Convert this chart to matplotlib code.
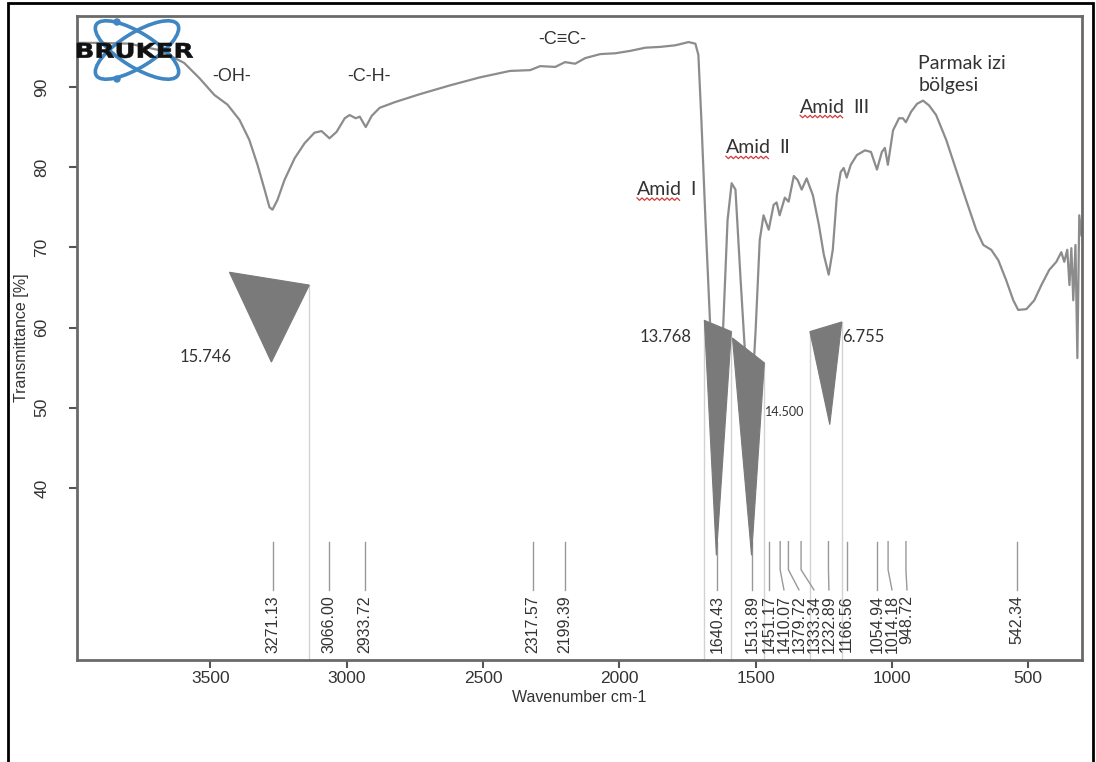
import numpy as np
import matplotlib.pyplot as plt
from matplotlib.patches import Polygon, Ellipse, Circle, PathPatch, Rectangle
from matplotlib.lines import Line2D
from matplotlib.textpath import TextPath
from matplotlib.font_manager import FontProperties
from matplotlib.transforms import Affine2D, IdentityTransform

plt.rcParams["font.family"] = ["Liberation Sans", "DejaVu Sans"]
plt.rcParams["font.size"] = 12

# ATR-FTIR trace, wavenumber (cm-1) vs transmittance (%)
wavenumber = [3989, 3908, 3798, 3688, 3596, 3540, 3485, 3437, 3393, 3357,
              3327, 3301, 3283, 3272, 3254, 3228, 3191, 3154, 3118, 3092,
              3063, 3037, 3007, 2989, 2967, 2952, 2930, 2908, 2879, 2824,
              2732, 2621, 2511, 2401, 2327, 2290, 2235, 2199, 2162, 2125,
              2070, 2015, 1960, 1904, 1849, 1794, 1746, 1721, 1710, 1699,
              1684, 1666, 1647, 1636, 1621, 1603, 1588, 1574, 1555, 1533,
              1515, 1500, 1485, 1471, 1452, 1434, 1423, 1412, 1393, 1379,
              1360, 1346, 1331, 1313, 1290, 1268, 1250, 1232, 1217, 1202,
              1188, 1177, 1166, 1151, 1129, 1099, 1077, 1055, 1037, 1026,
              1015, 996, 974, 960, 949, 930, 908, 886, 864, 838,
              801, 765, 728, 691, 665, 636, 610, 581, 555, 537,
              507, 478, 452, 423, 397, 379, 368, 357, 349, 342,
              335, 327, 320, 313, 305]
transmittance = [95.5, 95.5, 95.4, 94.6, 93.0, 91.1, 89.0, 87.8, 85.9, 83.4,
                 80.3, 77.2, 75.0, 74.7, 75.9, 78.4, 81.1, 83.0, 84.3, 84.5,
                 83.6, 84.4, 86.1, 86.5, 86.1, 86.3, 85.0, 86.4, 87.4, 88.1,
                 89.1, 90.2, 91.2, 92.0, 92.1, 92.6, 92.5, 93.1, 92.9, 93.6,
                 94.1, 94.2, 94.5, 94.9, 95.0, 95.2, 95.6, 95.4, 94.0, 85.9,
                 73.4, 59.7, 51.6, 50.4, 58.5, 73.4, 78.0, 77.2, 65.9, 53.5,
                 50.4, 59.7, 70.9, 74.0, 72.2, 75.3, 75.6, 74.0, 76.2, 75.7,
                 78.9, 78.4, 77.2, 78.6, 76.5, 72.8, 69.1, 66.6, 69.7, 76.5,
                 79.4, 79.9, 78.7, 80.3, 81.5, 82.1, 81.9, 79.7, 81.9, 82.4,
                 80.3, 84.6, 86.1, 86.1, 85.6, 86.9, 87.9, 88.3, 87.7, 86.5,
                 83.4, 79.7, 75.9, 72.2, 70.3, 69.7, 68.4, 65.9, 63.4, 62.2,
                 62.3, 63.4, 65.3, 67.2, 68.2, 69.4, 68.2, 69.7, 65.3, 69.9,
                 63.4, 70.3, 56.2, 74.0, 71.5]

# picked peaks (cm-1)
peak_positions = [3271.13, 3066.00, 2933.72, 2317.57, 2199.39, 1640.43,
                  1513.89, 1451.17, 1410.07, 1379.72, 1333.34, 1232.89,
                  1166.56, 1054.94, 1014.18, 948.72, 542.34]

# integrated bands: area and (left, right, tip) outline in (cm-1, %T)
band_areas = ["15.746", "13.768", "14.500", "6.755"]
band_shapes = [
    [(3430, 66.9), (3137, 65.3), (3276, 55.7)],
    [(1688, 60.9), (1589, 59.5), (1644, 31.6)],
    [(1585, 58.7), (1468, 55.6), (1515, 31.6)],
    [(1301, 59.5), (1184, 60.7), (1228, 47.9)],
]
band_label_pos = [(3611, 56.3), (1924, 58.8), (1466, 49.5), (1183, 58.8)]
band_label_size = [12, 12, 9, 12]
# integration limits drawn as faint guides
band_limits = [(3137, 65.3), (1688, 60.9), (1589, 59.5), (1468, 55.6),
               (1301, 59.5), (1184, 60.7)]

# functional group notes
group_labels = ["-OH-", "-C-H-", "-C\u2261C-"]
group_pos = [(3421, 91.3), (2918, 91.3), (2210, 95.9)]
amide_numerals = ["I", "II", "III"]
amide_pos = [(1935, 77.2), (1609, 82.4), (1337, 87.5)]
region_label = "Parmak izi\nbölgesi"
region_pos = (904, 91.6)

fig = plt.figure(figsize=(10.96, 7.62), dpi=100)
ax = fig.add_axes([77 / 1096, 1 - 660 / 762, 1005 / 1096, 644 / 762])

ax.set_xlim(3989, 303)
ax.set_ylim(18.55, 98.85)

for w, t in band_limits:
    ax.plot([w, w], [18.55, t], color="#d2d2d2", lw=1, zorder=1)

ax.plot(wavenumber, transmittance, color="#8c8c8c", lw=1.6, zorder=2)

for shape, txt, pos, fs in zip(band_shapes, band_areas, band_label_pos, band_label_size):
    ax.add_patch(Polygon(shape, closed=True, facecolor="#7a7a7a",
                         edgecolor="#7a7a7a", lw=0.8, zorder=3))
    ax.text(pos[0], pos[1], txt, fontsize=fs, family=["Lato", "DejaVu Sans"],
            color="#333333", ha="left", va="center", zorder=4)

# peak labels, spread apart where they crowd
gap = 55
label_x = []
for p in peak_positions:
    x = p if not label_x else min(p, label_x[-1] - gap)
    label_x.append(x)
for p, lx in zip(peak_positions, label_x):
    if abs(p - lx) < 1:
        ax.plot([p, p], [33.3, 27.3], color="#999999", lw=1, zorder=2)
    else:
        ax.plot([p, p, lx], [33.3, 29.8, 27.3], color="#999999", lw=1, zorder=2)
    ax.text(lx, 26.6, f"{p:.2f}", rotation=90, ha="center", va="top",
            fontsize=11.5, color="#333333")

for txt, (w, t) in zip(group_labels, group_pos):
    ax.text(w, t, txt, ha="center", va="center", fontsize=13, color="#333333")

amid_texts = []
for num, (w, t) in zip(amide_numerals, amide_pos):
    a = ax.text(w, t, "Amid", ha="left", va="center", fontsize=14,
                family=["Lato", "DejaVu Sans"], color="#333333")
    ax.annotate(num, xy=(1, 0), xycoords=a, xytext=(6, 0),
                textcoords="offset points", ha="left", va="bottom",
                fontsize=14, family=["Lato", "DejaVu Sans"], color="#333333")
    amid_texts.append(a)

ax.text(region_pos[0], region_pos[1], region_label, ha="left", va="center",
        fontsize=14, family=["Lato", "DejaVu Sans"], color="#333333",
        linespacing=1.35)

ax.set_xticks([3500, 3000, 2500, 2000, 1500, 1000, 500])
ax.set_yticks([40, 50, 60, 70, 80, 90])
for lab in ax.get_yticklabels():
    lab.set_rotation(90)
    lab.set_va("center")
ax.tick_params(axis="both", colors="#555555", labelcolor="#333333",
               labelsize=12.5, width=1.5, length=6)
ax.tick_params(axis="x", pad=2)
ax.tick_params(axis="y", pad=14)
for s in ax.spines.values():
    s.set_color("#6a6a6a")
    s.set_linewidth(2)
ax.set_xlabel("Wavenumber cm-1", fontsize=11.5, color="#333333", labelpad=3)
ax.set_ylabel("Transmittance [%]", fontsize=11.5, color="#333333", labelpad=4)

# Bruker logo in the upper-left corner
logo = fig.add_axes([75 / 1096, 1 - 86 / 762, 125 / 1096, 72 / 762])
logo.set_xlim(0, 125)
logo.set_ylim(0, 72)
logo.axis("off")
logo.patch.set_alpha(0)
for ang in (32, -32):
    logo.add_patch(Ellipse((62, 36), 96, 34, angle=ang, fill=False,
                           edgecolor="#3f86c2", lw=2.6))
logo.add_patch(Circle((42, 64), 3, color="#3f86c2"))
logo.add_patch(Circle((42, 7), 3, color="#3f86c2"))
tp = TextPath((0, 0), "BRUKER", size=10,
              prop=FontProperties(family="DejaVu Sans", weight="bold"))
bb = tp.get_extents()
tr = (Affine2D().translate(-bb.x0, -bb.y0)
      .scale(116 / bb.width, 15 / bb.height).translate(2, 28))
logo.add_patch(PathPatch(tr.transform_path(tp), facecolor="#111111",
                         edgecolor="#111111", lw=0.4))

# outer frame of the page
fig.add_artist(Rectangle((8 / 1096, -0.05), 1085 / 1096, 1.05 - 3 / 762,
                         transform=fig.transFigure, fill=False,
                         edgecolor="black", lw=2))

# wavy proofing underline under each "Amid"
fig.canvas.draw()
renderer = fig.canvas.get_renderer()
for a in amid_texts:
    b = a.get_window_extent(renderer)
    xs = np.arange(b.x0, b.x1, 2.5)
    ys = b.y0 - 1 + np.where(np.arange(len(xs)) % 2 == 0, 1.2, -1.2)
    fig.add_artist(Line2D(xs, ys, transform=IdentityTransform(),
                          color="#d23c3c", lw=0.9))

fig.savefig("out.png", dpi=100)
